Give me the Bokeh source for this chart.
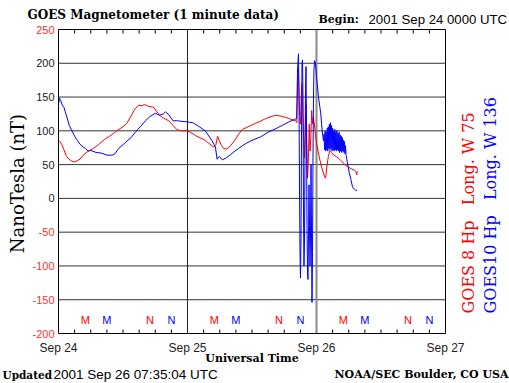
import math
from bokeh.plotting import figure
from bokeh.models import Label, ColumnDataSource
from bokeh.core.properties import value
from bokeh.embed import file_html
from bokeh.resources import INLINE

# ---------------- data (hours since 2001 Sep 24 00:00 UT, nT) ----------------
goes8_hours = [0.2, 0.6, 1.0, 1.5, 2.0, 2.5, 3.0, 3.5, 4.0, 4.6, 5.2, 5.8, 6.5, 7.5, 8.5, 9.5,
               10.2, 11.0, 12.0, 12.7, 13.5, 14.2, 14.9, 15.5, 16.0, 16.8, 17.7, 18.3, 18.8,
               19.5, 20.5, 21.3, 22.0, 22.8, 23.8, 24.5, 25.5, 26.5, 27.3, 28.2, 28.9, 29.3,
               29.6, 29.9, 30.2, 30.7, 31.3, 32.0, 32.8, 33.5, 34.2, 35.0, 35.8, 36.6, 37.5,
               38.5, 39.5, 40.4, 41.3, 42.2, 43.0, 43.6, 44.1, 44.35, 44.45, 44.55, 44.65,
               44.75, 44.85, 45.0, 45.15, 45.3, 45.45, 45.6, 45.75, 45.9, 46.05, 46.2, 46.35,
               46.5, 46.65, 46.8, 46.95, 47.1, 47.25, 47.4, 47.6, 47.8, 48.0, 48.3, 48.6, 48.9,
               49.2, 49.5, 49.7, 49.9, 50.2, 50.5, 50.8, 51.2, 51.7, 52.3, 52.8, 53.3, 53.8,
               54.4, 55.0, 55.3, 55.5, 55.58]
goes8_nt = [85, 80, 72, 62, 58, 55, 54, 56, 58, 64, 68, 71, 74, 80, 87, 92,
            96, 101, 106, 111, 122, 132, 138, 137, 139, 136, 135, 128, 123,
            119, 115, 108, 102, 100, 100, 98, 93, 89, 86, 80, 76, 80,
            92, 86, 80, 74, 73, 78, 86, 95, 102, 105, 108, 111, 114,
            118, 121, 123, 122, 120, 118, 116, 115, 112, 150, 192, 185,
            160, 130, 110, 150, 170, 130, 90, 60, 100, 140, 80, 30,
            60, 110, 70, 90, 130, 110, 120, 110, 95, 82, 70, 58, 48,
            40, 32, 30, 45, 62, 71, 68, 64, 62, 58, 54, 50, 47,
            44, 42, 40, 35, 40]

goes10_hours = [0.0, 0.2, 0.4, 0.7, 1.0, 1.5, 2.0, 2.5, 3.0, 3.5, 4.0, 4.6, 5.0, 5.5, 6.0, 7.0,
                8.0, 9.0, 10.0, 10.5, 11.2, 12.5, 13.5, 14.3, 15.2, 16.2, 17.0, 18.0, 18.8,
                19.5, 19.9, 20.5, 21.3, 22.0, 23.0, 24.2, 25.0, 26.0, 27.3, 28.5, 29.2, 29.5,
                29.9, 30.5, 31.2, 31.9, 32.5, 33.5, 34.8, 36.0, 37.6, 39.0, 40.9, 42.8, 43.9,
                44.3, 44.47, 44.65, 44.74, 44.84, 44.93, 45.02, 45.12, 45.21, 45.30, 45.40,
                45.49, 45.58, 45.67, 45.77, 45.86, 45.95, 46.05, 46.14, 46.23, 46.33, 46.42,
                46.51, 46.60, 46.70, 46.79, 46.88, 46.98, 47.07, 47.16, 47.26, 47.35, 47.44,
                47.53, 47.63, 47.81, 48.0, 48.37, 48.8, 49.05, 49.3,
                49.4, 49.5, 49.6, 49.7, 49.8, 49.9, 50.0, 50.1, 50.2, 50.3, 50.4, 50.5,
                50.6, 50.7, 50.8, 50.9, 51.0, 51.1, 51.2, 51.3, 51.4, 51.5, 51.6, 51.7,
                51.8, 51.9, 52.0, 52.1, 52.2, 52.3, 52.4, 52.5, 52.6, 52.7, 52.8, 52.9,
                53.0, 53.1, 53.2, 53.3, 53.4, 53.5,
                53.65, 53.8, 54.1, 54.4, 54.7, 55.0, 55.3, 55.58]
goes10_nt = [140, 148, 145, 138, 135, 122, 108, 100, 92, 86, 80, 76, 74, 70, 71, 68,
             67, 64, 64, 66, 74, 83, 90, 98, 106, 115, 121, 126, 123,
             125, 128, 124, 115, 115, 114, 113, 112, 107, 100, 86, 76, 58,
             62, 57, 60, 64, 68, 74, 81, 86, 91, 98, 105, 113, 117,
             118, 190, 214, 150, 20, -80, -118, -60, 100, 200, 205,
             150, -20, -100, -60, 60, 160, 195, 100, -40, -110, -120,
             -60, 20, -40, -100, -60, 50, -50, -154, -80, 60, 150,
             190, 204, 200, 180, 150, 125, 100, 85,
             95, 72, 100, 70, 98, 72, 104, 70, 106, 74, 110, 72,
             112, 74, 108, 70, 104, 72, 100, 70, 102, 72, 98, 70,
             100, 72, 96, 70, 98, 68, 94, 70, 92, 68, 90, 70,
             86, 68, 84, 66, 78, 64,
             58, 50, 38, 28, 17, 14, 12, 12]

day_ticks = [0, 24, 48, 72]
day_labels = ["Sep 24", "Sep 25", "Sep 26", "Sep 27"]
minor_hours = [3, 6, 9, 12, 15, 18, 21, 27, 30, 33, 36, 39, 42, 45,
               51, 54, 57, 60, 63, 66, 69]
nt_ticks = [-200, -150, -100, -50, 0, 50, 100, 150, 200, 250]
nt_labels = ["-200", "-150", "-100", "-50", "0", "50", "100", "150", "200", "250"]
nt_label_colors = ["#ff3030"] * 4 + ["#222222"] * 5 + ["#ff3030"]

# local midnight (M) / noon (N) markers for GOES-8 (W75) and GOES-10 (W136)
marker_hours = [5, 9, 17, 21, 29, 33, 41, 45, 53, 57, 65, 69]
marker_text = ["M", "M", "N", "N"] * 3
marker_color = ["#ff0000", "#0000ff", "#ff0000", "#0000ff"] * 3

RED = "#ff0000"
BLUE = "#0000ff"
GAP = " \u00a0\u00a0"

# ---------------- geometry: data box inside a full-canvas frame ----------------
W, H = 509, 383
BL, BR, BT, BB = 58, 445, 29, 333          # data box edges in pixels
HX0, HX1, NY0, NY1 = 0, 72, -200, 250       # data limits
kx = (BR - BL) / (HX1 - HX0)               # px per hour
ky = (BB - BT) / (NY1 - NY0)               # px per nT
XS, XE = HX0 - BL / kx, HX1 + (W - BR) / kx
YS, YE = NY0 - (H - BB) / ky, NY1 + BT / ky


def X(px):
    return XS + px / kx


def Y(py):
    return YE - py / ky


p = figure(width=W, height=H, x_range=(XS, XE), y_range=(YS, YE),
           output_backend="svg", toolbar_location=None,
           min_border=0, min_border_left=0, min_border_right=0,
           min_border_top=0, min_border_bottom=0,
           x_axis_type=None, y_axis_type=None)
p.title.visible = False
p.outline_line_color = None
p.xgrid.visible = False
p.ygrid.visible = False
p.background_fill_color = "white"
p.border_fill_color = "white"

# horizontal grid lines
inner = nt_ticks[1:-1]
p.segment(x0=[HX0] * len(inner), x1=[HX1] * len(inner), y0=inner, y1=inner,
          line_color="#333333", line_width=1)
# day separators
p.segment(x0=[24], x1=[24], y0=[NY0], y1=[NY1], line_color="#222222", line_width=1)
p.segment(x0=[48], x1=[48], y0=[NY0], y1=[NY1], line_color="#8a8a8a", line_width=2)
# minor (3-hour) ticks, top and bottom, pointing inward
tick_len = 4 / ky
p.segment(x0=minor_hours, x1=minor_hours, y0=[NY0] * len(minor_hours),
          y1=[NY0 + tick_len] * len(minor_hours), line_color="black", line_width=1)
p.segment(x0=minor_hours, x1=minor_hours, y0=[NY1] * len(minor_hours),
          y1=[NY1 - tick_len] * len(minor_hours), line_color="black", line_width=1)

# data
p.line(goes8_hours, goes8_nt, line_color=RED, line_width=1)
p.line(goes10_hours, goes10_nt, line_color=BLUE, line_width=1)

# plot box
p.quad(left=[HX0], right=[HX1], bottom=[NY0], top=[NY1], fill_color=None,
       line_color="black", line_width=1)

# M / N markers
msrc = ColumnDataSource(dict(x=marker_hours, y=[-180] * len(marker_hours),
                             t=marker_text, c=marker_color))
p.text(x="x", y="y", text="t", text_color="c", source=msrc, text_align="center",
       text_baseline="middle", text_font=value("Liberation Sans"), text_font_size="11px")

# y tick labels
ysrc = ColumnDataSource(dict(x=[X(54)] * len(nt_ticks), y=nt_ticks, t=nt_labels, c=nt_label_colors))
p.text(x="x", y="y", text="t", text_color="c", source=ysrc, text_align="right",
       text_baseline="middle", text_font=value("Liberation Sans"), text_font_size="11px")

# x tick labels
xsrc = ColumnDataSource(dict(x=day_ticks, y=[Y(347)] * len(day_ticks), t=day_labels))
p.text(x="x", y="y", text="t", source=xsrc, text_align="center", text_color="#222222",
       text_baseline="middle", text_font=value("Liberation Sans"), text_font_size="12px")


def lab(px, py, text, font="Liberation Sans", size="12px", color="black", style="normal",
        align="left", angle=0.0):
    p.add_layout(Label(x=X(px), y=Y(py), text=text, text_font=font, text_font_size=size,
                       text_color=color, text_font_style=style, text_align=align,
                       text_baseline="middle", angle=angle))


lab(27, 14, "GOES Magnetometer (1 minute data)", font="DejaVu Serif", size="12px", style="bold")
lab(318, 19, "Begin:", font="DejaVu Serif", size="11px", style="bold")
lab(368, 19, "2001 Sep 24 0000 UTC", size="13.2px")
lab(17, 183, "NanoTesla (nT)", font="DejaVu Serif", size="18px", align="center", angle=math.pi / 2)
lab(468, 313, "GOES 8 Hp" + GAP + "Long. W 75", font="DejaVu Serif", size="16px", color=RED,
    angle=math.pi / 2)
lab(490, 313, "GOES10 Hp" + GAP + "Long. W 136", font="DejaVu Serif", size="16px", color=BLUE,
    angle=math.pi / 2)
lab(251.5, 358, "Universal Time", font="DejaVu Serif", size="11px", style="bold", align="center")
lab(2, 374, "Updated", font="DejaVu Serif", size="10.5px", style="bold")
lab(53, 374, "2001 Sep 26 07:35:04 UTC", size="13.5px")
lab(334, 374, "NOAA/SEC Boulder, CO USA", font="DejaVu Serif", size="11px", style="bold")

open("out.html", "w").write(file_html(p, INLINE))
